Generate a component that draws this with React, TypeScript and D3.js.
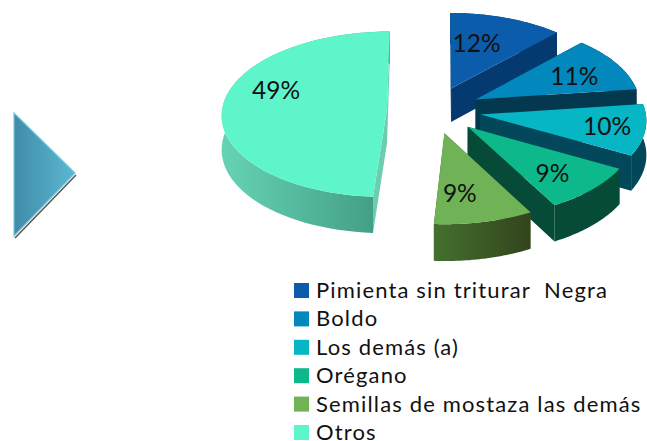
import React from "react";
import * as d3 from "d3";

const categories = ["Pimienta sin triturar  Negra", "Boldo", "Los demás (a)", "Orégano", "Semillas de mostaza las demás", "Otros"];
const shares = [12, 11, 10, 9, 9, 49];
const topColors = ["#0b5cab", "#0288bd", "#06b6c4", "#0db88a", "#6fb356", "#5ff5cb"];
const wallLight = ["#043a70", "#03384f", "#02485a", "#064a38", "#44702f", "#66d3b4"];
const wallDark = ["#043a70", "#03384f", "#02485a", "#064a38", "#33441b", "#3f9a82"];
const edgeColors = ["#043a70", "#03384f", "#02485a", "#064a38", "#3a5a24", "#6ccdb0"];
// hand placed labels, the original does not keep them on one radius
const labelNudgeX = [-13, 2, 15, 1, -11, 1];
const labelNudgeY = [3, 1, 0, 4, 0, -18];

const width = 647;
const height = 441;
const cx = 434;
const cy = 110;
const radius = 165;
const tilt = 0.5;
const persp = 0.06;
const explode = 0.285;
const depth = 34;
const labelR = 0.68;
const font = "Lato, 'Open Sans', sans-serif";

type Pt = [number, number];

// pie plane -> screen, nearer points come out a bit bigger
function project(u: number, v: number, down = 0): Pt {
    const s = 1 / (1 - persp * v);
    return [cx + radius * u * s, cy + radius * tilt * v * s + down * s];
}

const pieData = d3.pie<number>().sort(null)(shares);
const line = d3.line<Pt>();

function sliceGeometry(start: number, end: number) {
    const mid = (start + end) / 2;
    const ox = explode * Math.sin(mid);
    const oy = -explode * Math.cos(mid);
    const angles = d3.range(0, 61).map(d3.scaleLinear().domain([0, 60]).range([start, end]));
    const rim = (down: number) => angles.map(a => project(ox + Math.sin(a), oy - Math.cos(a), down));
    const apex = (down: number) => project(ox, oy, down);
    const top = rim(0);
    const bottom = rim(depth);
    const label = project(ox + labelR * Math.sin(mid), oy - labelR * Math.cos(mid));
    return {
        top: line([apex(0), ...top])! + "Z",
        outer: line([...top, ...bottom.slice().reverse()])! + "Z",
        startWall: line([apex(0), top[0], bottom[0], apex(depth)])! + "Z",
        endWall: line([apex(0), top[60], bottom[60], apex(depth)])! + "Z",
        label,
    };
}

export default function App() {
    const rowY = d3.scaleLinear().domain([0, 5]).range([283, 425]);
    return (
        <svg width={width} height={height} style={{ position: "absolute", left: 0, top: 0 }} fontFamily={font}>
            <defs>
                {shares.map((_, i) => (
                    <linearGradient key={i} id={`wall${i}`} x1="0" x2="1" y1="0" y2="0">
                        <stop offset="0" stopColor={wallLight[i]} />
                        <stop offset="1" stopColor={wallDark[i]} />
                    </linearGradient>
                ))}
                <linearGradient id="arrow" x1="0" x2="1" y1="0" y2="0">
                    <stop offset="0" stopColor="#3f8ca8" />
                    <stop offset="1" stopColor="#5cb8d2" />
                </linearGradient>
            </defs>

            <path d="M15,238L76,175" stroke="#555" strokeWidth={1.5} fill="none" />
            <path d="M14,113L75,173L14,236Z" fill="url(#arrow)" stroke="#78c6da" strokeWidth={1.2} />

            {/* Otros goes first, then the wedges from back to front */}
            {[5, 0, 1, 2, 3, 4].map(i => {
                const g = sliceGeometry(pieData[i].startAngle, pieData[i].endAngle);
                return (
                    <g key={i}>
                        <path d={g.startWall} fill={edgeColors[i]} />
                        <path d={g.endWall} fill={edgeColors[i]} />
                        <path d={g.outer} fill={`url(#wall${i})`} />
                        <path d={g.top} fill={topColors[i]} />
                    </g>
                );
            })}

            {pieData.map((d, i) => {
                const g = sliceGeometry(d.startAngle, d.endAngle);
                return (
                    <text key={i} x={g.label[0] + labelNudgeX[i]} y={g.label[1] + labelNudgeY[i]} textAnchor="middle" dominantBaseline="central" fontSize={24.5} fill="#111">
                        {shares[i]}%
                    </text>
                );
            })}

            {categories.map((c, i) => (
                <g key={c}>
                    <rect x={294} y={rowY(i)} width={15} height={15} fill={topColors[i]} />
                    <text x={316} y={rowY(i) + 15} fontSize={22} letterSpacing={1.15} fill="#111" style={{ whiteSpace: "pre" }}>
                        {c}
                    </text>
                </g>
            ))}
        </svg>
    );
}
